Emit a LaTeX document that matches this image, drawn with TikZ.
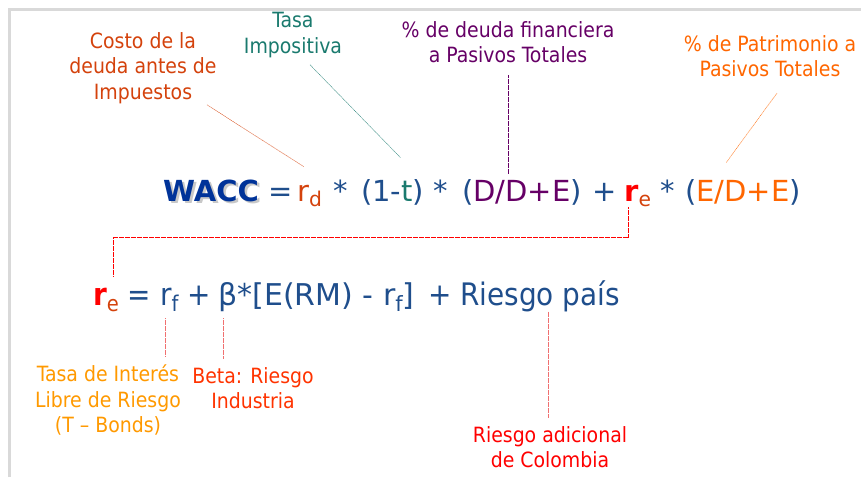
\documentclass[tikz,border=0pt]{standalone}
\usepackage{fontspec}
\usepackage{graphicx}
\setmainfont{DejaVu Sans Condensed}
\newfontfamily\formulafont{DejaVu Sans}
\usetikzlibrary{calc, positioning}

\definecolor{eqblue}{HTML}{1F4E8C}
\definecolor{waccblue}{HTML}{003399}
\definecolor{waccshade}{HTML}{C8C8C8}
\definecolor{costred}{HTML}{D4420C}
\definecolor{taxteal}{HTML}{1A7A6E}
\definecolor{debtpurple}{HTML}{660066}
\definecolor{equityorange}{HTML}{FF6600}
\definecolor{freegold}{HTML}{FF9900}
\definecolor{betared}{HTML}{FF3300}
\definecolor{countryred}{HTML}{FF0000}
\definecolor{pinkline}{HTML}{F07070}
\definecolor{framegray}{HTML}{D9D9D9}

\newcommand{\lowtxt}[1]{\raisebox{-0.2em}{\scalebox{0.7}{#1}}}

\begin{document}
\begin{tikzpicture}[%
    x=1pt, y=-1pt,        % one unit = one pixel of the slide
    every node/.style={inner sep=0pt},
    bigterm/.style={anchor=base west, text=eqblue, font=\formulafont\fontsize{29}{34}\selectfont},
    capmterm/.style={anchor=base west, text=eqblue, font=\fontsize{31}{36}\selectfont},
    note/.style={align=center, font=\fontsize{21}{25.5}\selectfont},
    leader/.style={line width=0.5pt, dash pattern=on 0.6pt off 0.6pt},
    ]

\useasboundingbox (0,0) rectangle (861,477);

%==================================================
% Frame
%==================================================
\draw[framegray, line width=3pt] (9,477) |- (861,9);

%==================================================
% WACC formula
%==================================================
\node[bigterm, text=waccshade] (waccshadow) at (165.5,203.5) {\textbf{WACC}};
\node[bigterm, text=waccblue]  (wacc)   at (163,201) {\textbf{WACC}};
\node[bigterm]                 (eqA)    at (268,201) {=};
\node[bigterm, text=costred]   (rd)     at (297,201) {r\lowtxt{d}};
\node[bigterm]                 (starA)  at (333,201) {*};
\node[bigterm]                 (tax)    at (361,201) {(1-\textcolor{taxteal}{t})};
\node[bigterm]                 (starB)  at (433,201) {*};
\node[bigterm]                 (debt)   at (462,201) {(\textcolor{debtpurple}{D/D+E})};
\node[bigterm]                 (plusA)  at (592,201) {+};
\node[bigterm]                 (reA)    at (624,201) {\textcolor{countryred}{\textbf{r}}\textcolor{costred}{\lowtxt{e}}};
\node[bigterm]                 (starC)  at (660,201) {*};
\node[bigterm]                 (equity) at (685,201) {(\textcolor{equityorange}{E/D+E})};

%==================================================
% CAPM formula
%==================================================
\node[capmterm] (reB)     at (93,305)  {\textcolor{countryred}{\textbf{r}}\textcolor{costred}{\lowtxt{e}}};
\node[capmterm] (eqB)     at (127,305) {=};
\node[capmterm] (rf)      at (160,305) {r\lowtxt{f}};
\node[capmterm] (plusB)   at (187,305) {+};
\node[capmterm, font=\formulafont\fontsize{30}{36}\selectfont] (premium) at (218,305) {β*[E(RM) - r\lowtxt{f}]};
\node[capmterm] (plusC)   at (428,305) {+};
\node[capmterm] (pais)    at (460,305) {Riesgo país};

%==================================================
% Labels
%==================================================
\node[note, text=costred]      (costo)      at (143,68)  {Costo de la\\deuda antes de\\Impuestos};
\node[note, text=taxteal]      (tasa)       at (293,35)  {Tasa\\Impositiva};
\node[note, text=debtpurple]   (deuda)      at (508,42)  {\% de deuda financiera\\a Pasivos Totales};
\node[note, text=equityorange] (patrimonio) at (770,56)  {\% de Patrimonio a\\Pasivos Totales};
\node[note, text=freegold]     (libre)      at (108,400) {Tasa de Interés\\Libre de Riesgo\\(T – Bonds)};
\node[note, text=betared]      (beta)       at (253,388) {Beta: Riesgo\\Industria};
\node[note, text=countryred]   (colombia)   at (550,447) {Riesgo adicional\\de Colombia};

%==================================================
% Leaders
%==================================================
% WACC
\draw[leader, costred] ([xshift=64pt,yshift=-1pt]costo.south) -- ([xshift=-6pt,yshift=18pt]rd.north);
\draw[leader, taxteal] ([xshift=17pt,yshift=-7pt]tasa.south) -- ([xshift=8pt,yshift=21pt]tax.north);
\draw[leader, debtpurple] ([yshift=-12pt]deuda.south) -- ([yshift=5pt]deuda.south |- debt.north);
\draw[leader, equityorange] ([xshift=7pt,yshift=-16pt]patrimonio.south) -- ([xshift=-17pt,yshift=16pt]equity.north);

% r_e link
\draw[leader, countryred] ([xshift=4pt]reA.south west) -- ++(0,30) -| ([xshift=7pt,yshift=11pt]reB.north);

% CAPM
\draw[leader, pinkline, shorten >=8pt] ([xshift=5pt,yshift=-7pt]rf.south west) -- ([xshift=5pt]rf.south west |- libre.north);
\draw[leader, pinkline, shorten >=8pt] ([xshift=5pt,yshift=-7pt]premium.south west) -- ([xshift=5pt]premium.south west |- beta.north);
\draw[leader, pinkline, shorten >=8pt] ([xshift=88pt]pais.south west) -- ([xshift=88pt]pais.south west |- colombia.north);

%==================================================
\end{tikzpicture}
\end{document}
